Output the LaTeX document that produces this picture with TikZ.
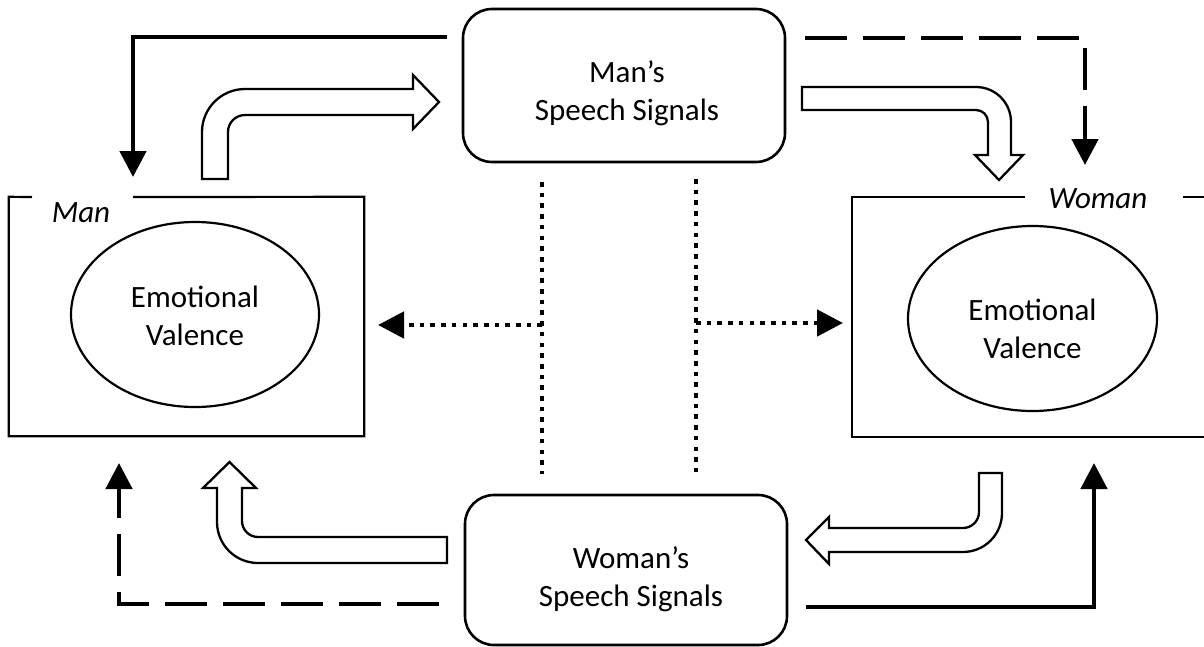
\documentclass[tikz,border=0pt]{standalone}
\usepackage{fontspec}
\setmainfont{Carlito}
\usetikzlibrary{arrows.meta,shapes.geometric}
\begin{document}
\begin{tikzpicture}[x=1pt,y=-1pt,
  txt/.style={font=\fontsize{31}{37.8}\selectfont, align=center, inner sep=0pt},
  lbl/.style={font=\fontsize{31}{37.8}\selectfont\itshape, inner sep=0pt},
  frame/.style={line width=2.2pt},
  speechbox/.style={draw, line width=2.6pt, rounded corners=29pt, inner sep=0pt},
  emo/.style={draw, ellipse, line width=2.2pt, inner sep=0pt},
  hollow/.style={draw, line width=2.3pt, fill=white, line join=miter},
  solidarr/.style={line width=4.8pt, -{Triangle[width=26pt,length=26pt]}},
  dasharr/.style={line width=4.8pt, dash pattern=on 42pt off 16pt, -{Triangle[width=26pt,length=26pt]}},
  dotline/.style={line width=4.8pt, dash pattern=on 4.6pt off 6.1pt},
  dotarr/.style={dotline, -{Triangle[width=26pt,length=26pt]}},
]
\useasboundingbox (0,0) rectangle (1204,646);

% Speech boxes
\node[speechbox, minimum width=322pt, minimum height=153pt] (mss) at (624,85.5) {};
\node[txt] (mssT) at (627,93) {Man’s\\Speech Signals};
\node[speechbox, minimum width=322pt, minimum height=150pt] (wss) at (626,570) {};
\node[txt] (wssT) at (631,579) {Woman’s\\Speech Signals};

% Man frame
\node[minimum width=355pt, minimum height=239pt, inner sep=0pt] (manbox) at (186.5,316.5) {};
\coordinate (mgapL) at (32,197);
\coordinate (mgapR) at (133,197);
\draw[frame] (mgapL) -- (manbox.north west) -- (manbox.south west) -- (manbox.south east) -- (manbox.north east) -- (mgapR);
\node[lbl, anchor=base] (manL) at (81,222) {Man};
\node[emo, minimum width=248pt, minimum height=185pt] (manE) at (195,314.5) {};
\node[txt] (manT) at (195,316) {Emotional\\Valence};

% Woman frame
\coordinate (wNW) at (852,197);
\coordinate (wSW) at (852,437);
\coordinate (wSE) at (1204,437);
\coordinate (wgapL) at (1025,197);
\coordinate (wgapR) at (1183,197);
\coordinate (wNE) at (1204,197);
\draw[frame] (wgapL) -- (wNW) -- (wSW) -- (wSE);
\draw[frame] (wgapR) -- (wNE);
\node[lbl, anchor=base] (womanL) at (1098,208) {Woman};
\node[emo, minimum width=249pt, minimum height=185pt] (womanE) at (1032.5,318.5) {};
\node[txt] (womanT) at (1032.5,329) {Emotional\\Valence};

% Hollow arrows
\draw[hollow] (202,179) [rounded corners=43pt] -- (202,89) [sharp corners] -- (413,89) -- (413,75) -- (439,102) -- (413,129) -- (413,115) [rounded corners=17pt] -- (228,115) [sharp corners] -- (228,179) -- cycle;
\draw[hollow] (802,87) [rounded corners=35pt] -- (1011,87) [sharp corners] -- (1011,155) -- (1023,155) -- (999,180) -- (975,155) -- (988,155) [rounded corners=12pt] -- (988,110) [sharp corners] -- (802,110) -- cycle;
\draw[hollow] (979,473) -- (1002,473) [rounded corners=39pt] -- (1002,552) [sharp corners] -- (829,552) -- (829,564) -- (806,540) -- (829,517) -- (829,528) [rounded corners=16pt] -- (979,528) [sharp corners] -- cycle;
\draw[hollow] (447,537) -- (447,563) [rounded corners=41pt] -- (217,563) [sharp corners] -- (217,488) -- (203,488) -- (229.5,462) -- (256,488) -- (242,488) [rounded corners=16pt] -- (242,537) [sharp corners] -- cycle;

% Solid and dashed connectors
\coordinate (tlS) at (447,37);
\coordinate (tlE) at (133,177);
\draw[solidarr] (tlS) -| (tlE);
\coordinate (trS) at (805,38);
\coordinate (trE) at (1085,165);
\draw[dasharr] (trS) -| (trE);
\coordinate (blS) at (439,604);
\coordinate (blE) at (119,463);
\draw[dasharr] (blS) -| (blE);
\coordinate (brS) at (806,607);
\coordinate (brE) at (1094,463);
\draw[solidarr] (brS) -| (brE);

% Dotted lines
\coordinate (d1T) at (542,182);
\coordinate (d1B) at (542,474);
\coordinate (d1M) at (542,325);
\coordinate (d1E) at (378,325);
\draw[dotline] (d1T) -- (d1B);
\draw[dotarr] (d1M) -- (d1E);
\coordinate (d2T) at (696,179);
\coordinate (d2B) at (696,472);
\coordinate (d2M) at (696,323);
\coordinate (d2E) at (843,323);
\draw[dotline] (d2T) -- (d2B);
\draw[dotarr] (d2M) -- (d2E);
\end{tikzpicture}
\end{document}
